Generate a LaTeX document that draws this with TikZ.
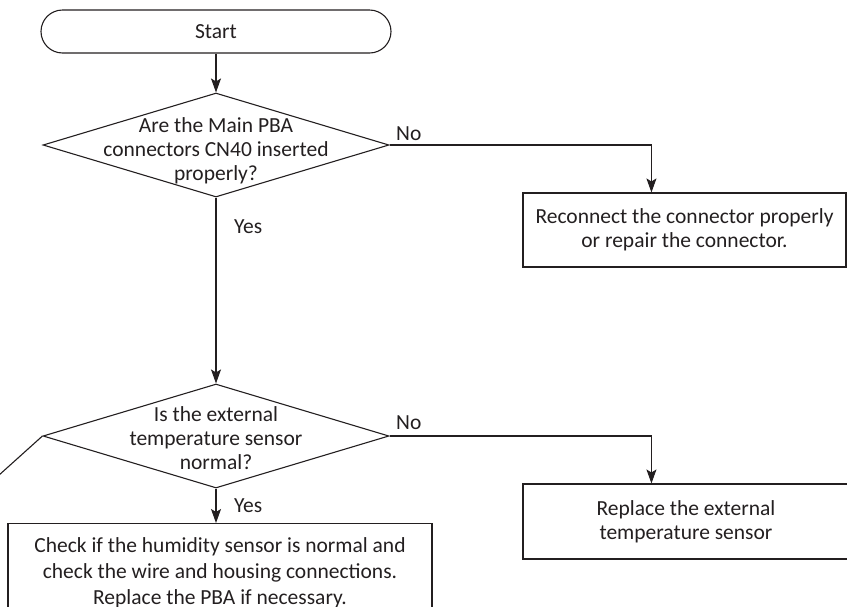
\documentclass[tikz,border=0pt]{standalone}
\usepackage{fontspec}
\setmainfont{Carlito}
\usetikzlibrary{shapes.geometric,shapes.misc,arrows.meta,calc}
\definecolor{ink}{RGB}{35,31,32}
\begin{document}
\begin{tikzpicture}[x=1pt,y=-1pt,
  every node/.style={text=ink},
  txt/.style={font=\fontsize{21.5}{24}\selectfont, align=center},
  terminal/.style={rounded rectangle, draw=ink, line width=1.1pt,
    minimum width=350pt, minimum height=43pt, inner sep=0pt, txt},
  decision/.style={diamond, draw=ink, line width=1.1pt, inner sep=0pt,
    minimum width=346pt, minimum height=104pt},
  dtext/.style={txt, inner sep=0pt},
  process/.style={rectangle, draw=ink, line width=1.1pt, inner sep=0pt, txt},
  flow/.style={draw=ink, line width=1.1pt,
    -{Stealth[length=14pt,width=10pt,inset=3pt]}},
  plain/.style={draw=ink, line width=1.1pt},
  answer/.style={txt, inner sep=0pt, anchor=base west}]
\useasboundingbox (0,0) rectangle (847,606);

% start symbol
\node[terminal] (start) at (216,31.5) {Start};

% first check
\node[decision, label={[dtext, yshift=-6pt]center:{Are the Main PBA\\connectors CN40 inserted\\properly?}}] (d1) at (216,145) {};

% repair action for the first check
\node[process, minimum width=323pt, minimum height=74pt,
  font=\fontsize{21.5}{23.5}\selectfont] (box1) at (684.5,230)
  {Reconnect the connector properly\\or repair the connector.};

% second check
\node[decision, label={[dtext, yshift=-2pt]center:{Is the external\\temperature sensor\\normal?}}] (d2) at (216,436) {};

% replacement action for the second check
\node[process, minimum width=326pt, minimum height=75pt] (box2) at (686,521.5)
  {Replace the external\\temperature sensor};

% final action, running past the lower edge
\node[process, anchor=north, minimum width=424pt, inner ysep=14pt,
  font=\fontsize{21.5}{26}\selectfont] (box3) at (220,523)
  {Check if the humidity sensor is normal and\\check the wire and housing connections.\\Replace the PBA if necessary.};

% connectors
\draw[flow] (start.south) -- (d1.north);
\draw[flow] (d1.east) -| ([xshift=129pt]box1.north west);
\draw[flow] (d1.south) -- (d2.north);
\draw[flow] (d2.east) -| ([xshift=129pt]box2.north west);
\draw[flow] (d2.south) -- (d2.south |- box3.north);

% stray stroke leaving the second check to the left
\coordinate (stray) at (-12,485);
\draw[plain] (d2.west) -- (stray);

% branch labels
\node[answer] (no1) at (396,140) {No};
\node[answer] (yes1) at (234,233) {Yes};
\node[answer] (no2) at (396,429) {No};
\node[answer] (yes2) at (234,512) {Yes};
\end{tikzpicture}
\end{document}
